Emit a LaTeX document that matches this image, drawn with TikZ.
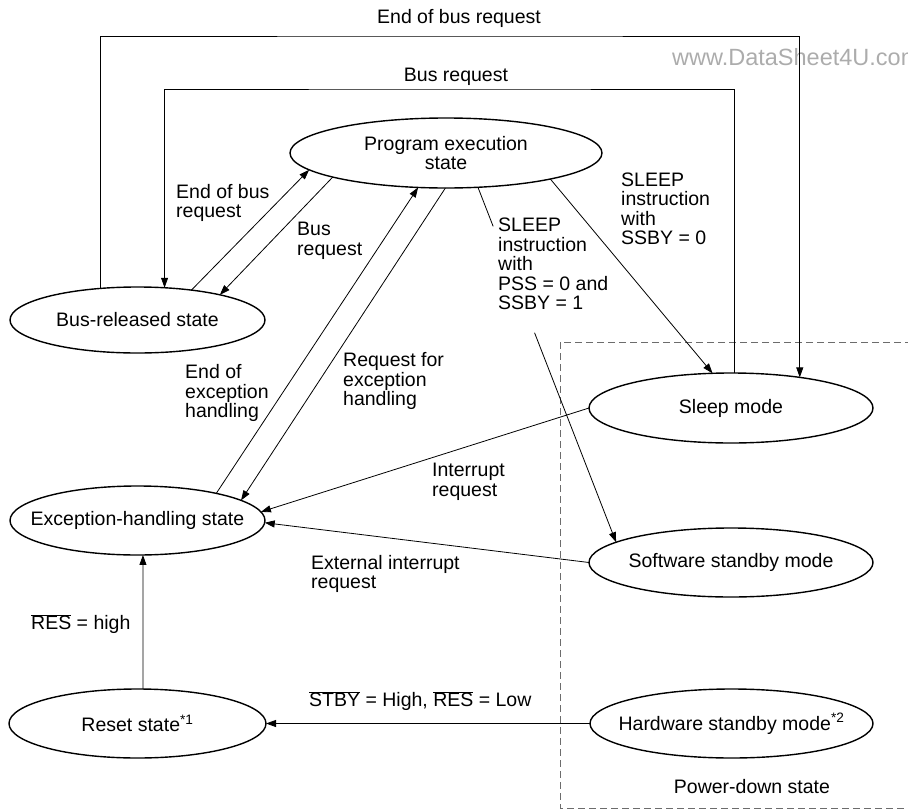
\documentclass[tikz,border=0pt]{standalone}
\usepackage{fontspec}
\setmainfont{Liberation Sans}
\usetikzlibrary{arrows.meta,shapes.geometric,calc}
\newcommand{\ovl}[1]{$\overline{\mbox{#1}}$}
\begin{document}
\begin{tikzpicture}[x=1pt,y=-1pt,
  txt/.style={font=\fontsize{19.5}{19.5}\selectfont},
  state/.style={ellipse,draw,line width=1.4pt,inner sep=0pt,outer sep=0pt},
  stlab/.style={txt,align=center,inner sep=0pt},
  lbl/.style={txt,anchor=west,align=left,inner sep=0pt},
  conn/.style={line width=0.8pt},
  arr/.style={conn,-{Triangle[length=10pt,width=7pt]}},
]
\useasboundingbox (0,0) rectangle (908,809);

% power-down region
\draw[gray!85!black,line width=0.8pt,dash pattern=on 7pt off 4pt] (560,342) rectangle (930,808);

% watermark
\node[anchor=west,inner sep=0pt,text=gray!65,font=\fontsize{23.5}{23.5}\selectfont] (wm) at (672,57) {www.DataSheet4U.com};

% states
\node[state,minimum width=312pt,minimum height=70pt,label={[stlab]center:Program execution\\state}] (prog) at (446,153) {};
\node[state,minimum width=255pt,minimum height=66pt,label={[stlab]center:Bus-released state}] (bus) at (137.5,320) {};
\node[state,minimum width=255pt,minimum height=69pt,label={[stlab]center:Exception-handling state}] (exc) at (137.5,520.5) {};
\node[state,minimum width=257pt,minimum height=69pt,label={[stlab]center:Reset state\textsuperscript{*1}}] (reset) at (137.5,723.5) {};
\node[state,minimum width=284pt,minimum height=70pt,label={[stlab]center:Sleep mode}] (sleep) at (731,408) {};
\node[state,minimum width=284pt,minimum height=69pt,label={[stlab]center:Software standby mode}] (sw) at (731,562.5) {};
\node[state,minimum width=283pt,minimum height=69pt,label={[stlab]center:Hardware standby mode\textsuperscript{*2}}] (hw) at (731.5,723.5) {};

% loop corners
\coordinate (otop) at (450,36);
\coordinate (itop) at (450,89);

% outer loop: bus-released -> sleep
\draw[arr] (bus.140) |- (otop) -| (sleep.24.8);
\node[txt,inner sep=0pt] (lEobTop) at (459,18) {End of bus request};
% inner loop: sleep -> bus-released
\draw[arr] (sleep.85.1) |- (itop) -| (bus.50.6);
\node[txt,inner sep=0pt] (lBrTop) at (456,77) {Bus request};

% bus <-> program
\draw[arr] (bus.29.8) -- (prog.-173.3);
\draw[arr] (prog.-168.4) -- (bus.17.6);
\node[lbl] (lEob) at (176,203) {End of bus\\request};
\node[lbl] (lBr) at (297,241) {Bus\\request};

% exception <-> program
\draw[arr] (exc.19.1) -- (prog.-129.1);
\draw[arr] (prog.-91.6) -- (exc.11.3);
\node[lbl] (lEoe) at (185,393) {End of\\exception\\handling};
\node[lbl] (lRfe) at (343,381) {Request for\\exception\\handling};

% program -> sleep
\draw[arr] (prog.-14.8) -- (sleep.118.7);
\node[lbl] (lSl0) at (621,209) {SLEEP\\instruction\\with\\SSBY = 0};

% program -> software standby (interrupted by label)
\draw[conn] (prog.-47.9) -- ($(prog.-47.9)!0.11!(sw.170.8)$);
\draw[arr] ($(prog.-47.9)!0.41!(sw.170.8)$) -- (sw.170.8);
\node[lbl] (lSl1) at (498,264) {SLEEP\\instruction\\with\\PSS = 0 and\\SSBY = 1};

% sleep -> exception
\draw[arr] (sleep.west) -- (exc.4.5);
\node[lbl] (lIr) at (432,482) {Interrupt\\request};

% software standby -> exception
\draw[arr] (sw.west) -- (exc.-1);
\node[lbl] (lEir) at (311,574) {External interrupt\\request};

% reset -> exception
\draw[arr] (reset.81) -- (exc.-81);
\node[lbl] (lRes) at (31,624) {\ovl{RES} = high};

% hardware standby -> reset
\draw[arr] (hw.west) -- (reset.east);
\node[lbl] (lStby) at (309,701) {\ovl{STBY} = High, \ovl{RES} = Low};

\node[txt,inner sep=0pt] (lPd) at (752,787) {Power-down state};
\end{tikzpicture}
\end{document}
